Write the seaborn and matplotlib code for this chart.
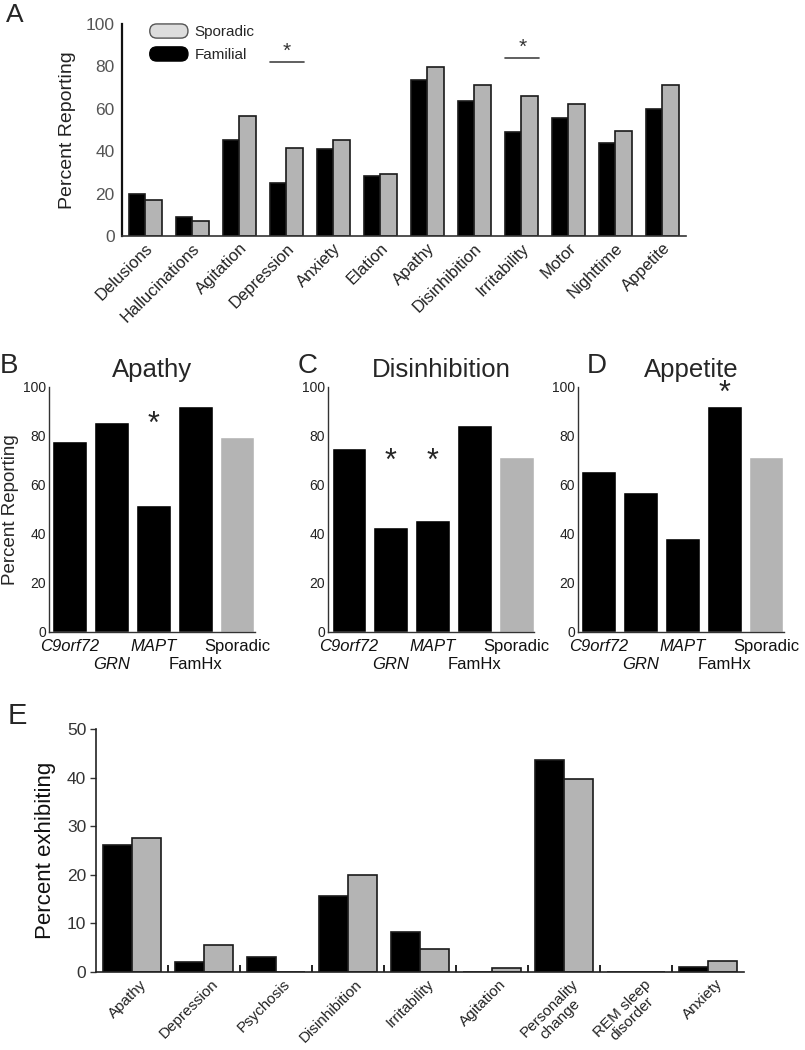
import numpy as np
import pandas as pd
import matplotlib
matplotlib.use("Agg")
import matplotlib.pyplot as plt
import seaborn as sns
from matplotlib.patches import Patch, FancyBboxPatch
from matplotlib.legend_handler import HandlerPatch

# panel A: NPI symptoms, familial vs sporadic
a_categories = ["Delusions", "Hallucinations", "Agitation", "Depression", "Anxiety",
                "Elation", "Apathy", "Disinhibition", "Irritability", "Motor",
                "Nighttime", "Appetite"]
a_familial = [20.0, 9.3, 45.5, 25.3, 41.0, 28.5, 73.7, 63.6, 49.2, 55.8, 44.1, 60.1]
a_sporadic = [17.0, 7.1, 56.7, 41.8, 45.4, 29.3, 79.8, 71.3, 66.1, 62.4, 49.6, 71.1]
a_sig = [("Depression", 82), ("Irritability", 84)]

# panels B-D: by genetic group
groups = ["C9orf72", "GRN", "MAPT", "FamHx", "Sporadic"]
italic_groups = ["C9orf72", "GRN", "MAPT"]
apathy = [78.0, 85.6, 51.7, 92.0, 79.6]
disinhibition = [74.9, 42.6, 45.6, 84.5, 71.2]
appetite = [65.6, 56.9, 38.1, 92.1, 71.2]
apathy_stars = [("MAPT", 84.5)]
disinhibition_stars = [("GRN", 69.5), ("MAPT", 69.5)]
appetite_stars = [("FamHx", 97)]

# panel E: presenting features
e_categories = ["Apathy", "Depression", "Psychosis", "Disinhibition", "Irritability",
                "Agitation", "Personality\nchange", "REM sleep\ndisorder", "Anxiety"]
e_familial = [26.0, 1.9, 3.1, 15.6, 8.2, 0.0, 43.7, 0.0, 1.0]
e_sporadic = [27.5, 5.4, 0.0, 19.9, 4.6, 0.8, 39.7, 0.0, 2.3]

BLACK = "#000000"
GRAY = "#b4b4b4"

sns.set_style("ticks")
plt.rcParams["font.family"] = ["Liberation Sans", "DejaVu Sans"]


def long_df(cats, fam, spo):
    return pd.DataFrame({
        "category": cats * 2,
        "group": ["Familial"] * len(cats) + ["Sporadic"] * len(cats),
        "value": fam + spo,
    })


def round_patch(legend, orig_handle, xdescent, ydescent, width, height, fontsize):
    return FancyBboxPatch((-xdescent, -ydescent), width, height,
                          boxstyle=f"round,pad=0,rounding_size={height / 2}")


fig = plt.figure(figsize=(8.05, 10.5), dpi=100)

# ---------------- A ----------------
axA = fig.add_axes([0.151, 0.7748, 0.701, 0.2024])
dfA = long_df(a_categories, a_familial, a_sporadic)
sns.barplot(data=dfA, x="category", y="value", hue="group",
            hue_order=["Familial", "Sporadic"],
            palette={"Familial": BLACK, "Sporadic": GRAY},
            width=0.7, errorbar=None, edgecolor="#1a1a1a", linewidth=1.2,
            legend=False, ax=axA)
axA.set_ylim(0, 100)
axA.set_xlim(-0.5, len(a_categories) - 0.5)
axA.set_yticks(range(0, 101, 20))
axA.set_xlabel("")
axA.set_ylabel("Percent Reporting", fontsize=14, color="#222222", labelpad=7)
axA.tick_params(axis="y", length=0, labelsize=12.5, labelcolor="#555555", pad=5)
axA.tick_params(axis="x", length=0, labelsize=12, labelcolor="#222222", pad=3)
plt.setp(axA.get_xticklabels(), rotation=45, ha="right", rotation_mode="anchor")
sns.despine(ax=axA)
axA.spines["left"].set_linewidth(1.6)
axA.spines["left"].set_color("#111111")
axA.spines["bottom"].set_linewidth(1.2)
axA.spines["bottom"].set_color("#333333")
for cat, h in a_sig:
    i = a_categories.index(cat)
    axA.plot([i - 0.34, i + 0.38], [h, h], color="#444444", lw=1.2)
    axA.text(i + 0.02, h + 0.5, "*", ha="center", va="bottom", fontsize=15, color="#333333")
handles = [Patch(facecolor="#dddddd", edgecolor="#555555", lw=1.0, label="Sporadic"),
           Patch(facecolor=BLACK, edgecolor=BLACK, lw=1.0, label="Familial")]
axA.legend(handles=handles, loc="upper left", bbox_to_anchor=(0.05, 1.0), frameon=False,
           fontsize=11, handlelength=2.5, handleheight=1.05, handletextpad=0.45,
           borderpad=0, borderaxespad=0, labelspacing=0.5,
           handler_map={Patch: HandlerPatch(patch_func=round_patch)})

# ---------------- B, C, D ----------------
panels = [
    ("Apathy", apathy, apathy_stars, 0.0613, True, 0.5),
    ("Disinhibition", disinhibition, disinhibition_stars, 0.408, False, 0.55),
    ("Appetite", appetite, appetite_stars, 0.7184, False, 0.55),
]
pos = np.arange(len(groups))
for title, vals, stars, left, first, tx in panels:
    ax = fig.add_axes([left, 0.3984, 0.255, 0.2333])
    sns.barplot(x=groups, y=vals, hue=groups,
                palette=[BLACK, BLACK, BLACK, BLACK, GRAY],
                width=0.83, errorbar=None, legend=False, ax=ax)
    ax.set_ylim(0, 100)
    ax.set_xlim(-0.49, 4.42)
    ax.set_yticks(range(0, 101, 20))
    # staggered labels: even groups on the first row (major), odd on the second (minor)
    ax.set_xticks(pos[::2], labels=groups[::2])
    ax.set_xticks(pos[1::2], labels=groups[1::2], minor=True)
    for lab in ax.get_xticklabels() + ax.get_xticklabels(minor=True):
        if lab.get_text() in italic_groups:
            lab.set_fontstyle("italic")
    ax.tick_params(axis="y", length=0, labelsize=10, labelcolor="#222222", pad=2.5)
    plt.setp(ax.get_yticklabels(), va="center_baseline")
    ax.tick_params(axis="x", which="major", length=0, labelsize=12,
                   labelcolor="#111111", pad=5)
    ax.tick_params(axis="x", which="minor", length=0, labelsize=12,
                   labelcolor="#111111", pad=18.5)
    ax.set_title(title, fontsize=18.5, x=tx, pad=7)
    if first:
        ax.set_ylabel("Percent Reporting", fontsize=13.5, labelpad=3)
    sns.despine(ax=ax)
    for s in ["left", "bottom"]:
        ax.spines[s].set_linewidth(1.0)
        ax.spines[s].set_color("#333333")
    for g, h in stars:
        ax.text(groups.index(g), h, "*", ha="center", va="center", fontsize=22)

# ---------------- E ----------------
axE = fig.add_axes([0.1193, 0.0746, 0.805, 0.2311])
dfE = long_df(e_categories, e_familial, e_sporadic)
sns.barplot(data=dfE, x="category", y="value", hue="group",
            hue_order=["Familial", "Sporadic"],
            palette={"Familial": BLACK, "Sporadic": GRAY},
            width=0.8, errorbar=None, edgecolor="#1a1a1a", linewidth=1.2,
            legend=False, ax=axE)
axE.set_ylim(0, 50)
axE.set_xlim(-0.5, len(e_categories) - 0.5)
axE.set_yticks(range(0, 51, 10))
# labels sit a little right of each category centre, as in the original
axE.set_xticks(np.arange(len(e_categories)) + 0.1, labels=e_categories)
axE.set_xticks(np.arange(len(e_categories) - 1) + 0.5, minor=True)
axE.set_xlabel("")
axE.set_ylabel("Percent exhibiting", fontsize=16, color="#111111", labelpad=8)
axE.tick_params(axis="y", length=4, width=1.0, labelsize=12.5, labelcolor="#333333",
                color="#333333", pad=3)
axE.tick_params(axis="x", which="major", length=0, labelsize=11, labelcolor="#222222", pad=4)
axE.tick_params(axis="x", which="minor", direction="in", length=5, width=1.4, color="#222222")
plt.setp(axE.get_xticklabels(), rotation=45, ha="right", rotation_mode="anchor",
         multialignment="center", linespacing=1.05)
sns.despine(ax=axE)
for s in ["left", "bottom"]:
    axE.spines[s].set_linewidth(1.2)
    axE.spines[s].set_color("#222222")

# panel letters
fig.text(0.008, 0.979, "A", fontsize=19, va="baseline")
fig.text(0.0, 0.645, "B", fontsize=20, va="baseline")
fig.text(0.370, 0.645, "C", fontsize=20, va="baseline")
fig.text(0.729, 0.645, "D", fontsize=20, va="baseline")
fig.text(0.010, 0.310, "E", fontsize=21, va="baseline")

fig.savefig("out.png", dpi=100)
